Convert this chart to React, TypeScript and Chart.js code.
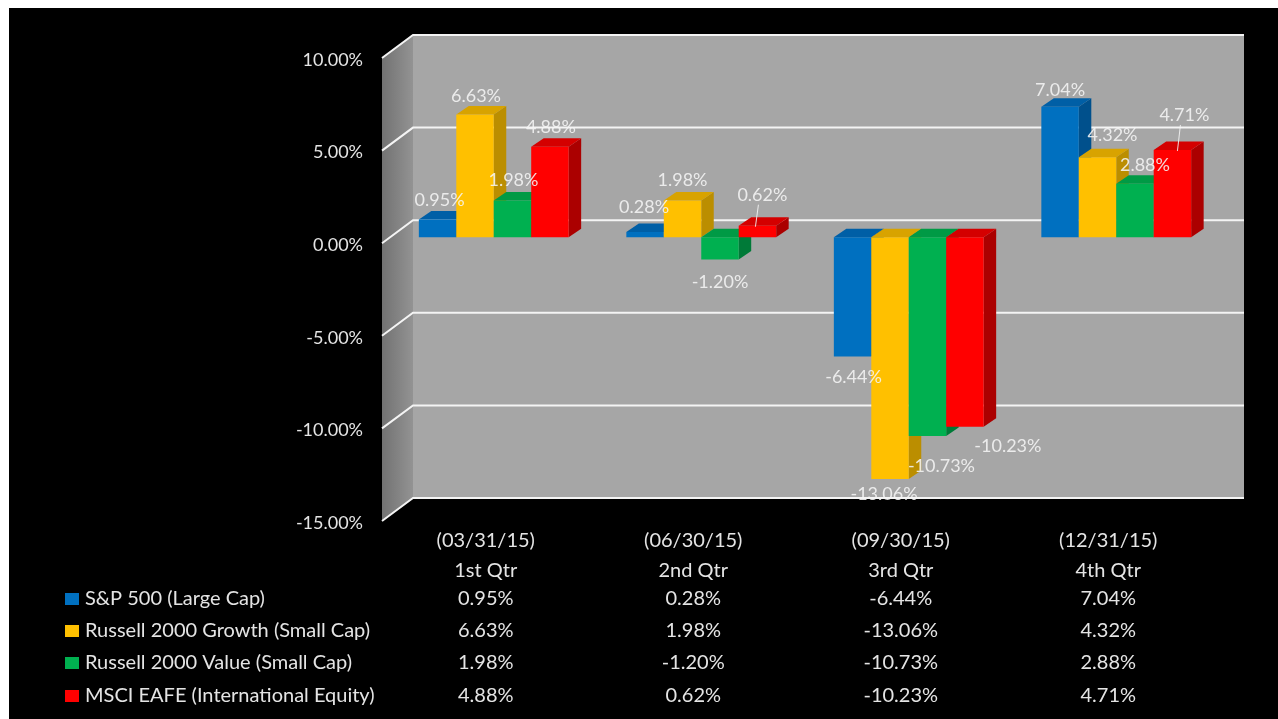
import React, { useEffect, useRef } from "react";
import { Chart, registerables } from "chart.js";

Chart.register(...registerables);

const dates = ["(03/31/15)", "(06/30/15)", "(09/30/15)", "(12/31/15)"];
const quarters = ["1st Qtr", "2nd Qtr", "3rd Qtr", "4th Qtr"];
const seriesNames = [
  "S&P 500 (Large Cap)",
  "Russell 2000 Growth (Small Cap)",
  "Russell 2000 Value (Small Cap)",
  "MSCI EAFE (International Equity)",
];
const sp500 = [0.95, 0.28, -6.44, 7.04];
const growth = [6.63, 1.98, -13.06, 4.32];
const value = [1.98, -1.2, -10.73, 2.88];
const eafe = [4.88, 0.62, -10.23, 4.71];
const seriesValues = [sp500, growth, value, eafe];

const FONT = "Lato, 'Open Sans', sans-serif";
const TEXT = "#e4e4e4";
const FRONT = ["#0070c0", "#ffc000", "#00b050", "#ff0000"];
const TOP = ["#005fa6", "#d8a300", "#009a45", "#d40000"];
const SIDE = ["#00508c", "#bb8e00", "#007a38", "#ab0000"];

// depth of the back wall relative to the front plane, and of the bars
const WALL = { x: 31, y: -23 };
const BAR_SHIFT = { x: 8, y: -6 };
const BAR_DEPTH = { x: 12.5, y: -8.5 };
// label nudges [dx, dy] from the bar's end, per series then per quarter
const LABEL_NUDGE = [
  [[2, -19], [-1, -25], [1, 21], [0, -17]],
  [[1, -18], [0, -20], [-6, 15], [15, -22]],
  [[1, -20], [0, 23], [14, 30], [10, -19]],
  [[1, -20], [5, -31], [43, 20], [12, -35]],
];
const LEADERS = [[1, 3], [3, 3]];
const ROW_Y = [591, 623, 655, 688];
const fmt = (v: number) => v.toFixed(2) + "%";

const scene = {
  id: "scene",
  beforeDraw(chart: any) {
    const { ctx, width, height, chartArea: a, scales } = chart;
    ctx.save();
    ctx.fillStyle = "#000";
    ctx.fillRect(0, 0, width, height);
    // back wall
    ctx.fillStyle = "#a6a6a6";
    ctx.fillRect(a.left + WALL.x, a.top + WALL.y, a.width + 1, a.height);
    // side wall
    const g = ctx.createLinearGradient(a.left, 0, a.left + WALL.x, 0);
    g.addColorStop(0, "#727272");
    g.addColorStop(1, "#939393");
    ctx.fillStyle = g;
    ctx.beginPath();
    ctx.moveTo(a.left, a.top);
    ctx.lineTo(a.left + WALL.x, a.top + WALL.y);
    ctx.lineTo(a.left + WALL.x, a.bottom + WALL.y);
    ctx.lineTo(a.left, a.bottom);
    ctx.closePath();
    ctx.fill();
    // gridlines
    ctx.strokeStyle = "#f4f4f4";
    ctx.lineWidth = 2;
    scales.y.ticks.forEach((t: any) => {
      const y = scales.y.getPixelForValue(t.value);
      ctx.beginPath();
      ctx.moveTo(a.left, y);
      ctx.lineTo(a.left + WALL.x, y + WALL.y);
      ctx.lineTo(a.right + WALL.x + 1, y + WALL.y);
      ctx.stroke();
    });
    ctx.restore();
  },
  beforeDatasetDraw() {
    return false;
  },
  afterDatasetsDraw(chart: any) {
    const { ctx, scales } = chart;
    ctx.save();
    ctx.translate(BAR_SHIFT.x, BAR_SHIFT.y);
    const zero = scales.y.getPixelForValue(0);
    chart.data.datasets.forEach((_: any, di: number) => {
      const meta = chart.getDatasetMeta(di);
      meta.data.forEach((bar: any) => {
        const l = bar.x - bar.width / 2;
        const r = bar.x + bar.width / 2;
        const top = Math.min(bar.y, zero);
        const bot = Math.max(bar.y, zero);
        const d = BAR_DEPTH;
        ctx.fillStyle = SIDE[di];
        ctx.beginPath();
        ctx.moveTo(r, top);
        ctx.lineTo(r + d.x, top + d.y);
        ctx.lineTo(r + d.x, bot + d.y);
        ctx.lineTo(r, bot);
        ctx.closePath();
        ctx.fill();
        ctx.fillStyle = TOP[di];
        ctx.beginPath();
        ctx.moveTo(l, top);
        ctx.lineTo(l + d.x, top + d.y);
        ctx.lineTo(r + d.x, top + d.y);
        ctx.lineTo(r, top);
        ctx.closePath();
        ctx.fill();
      });
      meta.controller.draw();
    });
    ctx.restore();

    // value labels
    ctx.save();
    ctx.font = `18px ${FONT}`;
    ctx.textAlign = "center";
    ctx.textBaseline = "middle";
    ctx.fillStyle = "rgba(245,245,245,0.88)";
    ctx.strokeStyle = "rgba(245,245,245,0.88)";
    chart.data.datasets.forEach((ds: any, di: number) => {
      chart.getDatasetMeta(di).data.forEach((bar: any, i: number) => {
        const [dx, dy] = LABEL_NUDGE[di][i];
        const x = bar.x + BAR_SHIFT.x;
        const y = bar.y + BAR_SHIFT.y;
        ctx.fillText(fmt(ds.data[i]), x + dx, y + dy);
        if (LEADERS.some(([q, s]) => q === i && s === di)) {
          ctx.lineWidth = 1;
          ctx.beginPath();
          ctx.moveTo(x + dx - 4, y + dy + 10);
          ctx.lineTo(x + dx - 7, y + 1);
          ctx.stroke();
        }
      });
    });
    ctx.restore();

    // data table with legend keys
    ctx.save();
    ctx.font = `20px ${FONT}`;
    ctx.textBaseline = "middle";
    ctx.fillStyle = TEXT;
    chart.data.datasets.forEach((ds: any, di: number) => {
      const y = ROW_Y[di];
      ctx.fillStyle = FRONT[di];
      ctx.fillRect(56, y - 6, 14, 12);
      ctx.fillStyle = TEXT;
      ctx.textAlign = "left";
      ctx.fillText(ds.label, 76, y);
      ctx.textAlign = "center";
      ds.data.forEach((v: number, i: number) => {
        ctx.fillText(fmt(v), scales.x.getPixelForValue(i), y);
      });
    });
    ctx.restore();
  },
};

export default function App() {
  const ref = useRef<HTMLCanvasElement>(null);
  useEffect(() => {
    const chart = new Chart(ref.current as HTMLCanvasElement, {
      type: "bar",
      data: {
        labels: dates.map((d, i) => [d, quarters[i]]),
        datasets: seriesNames.map((label, i) => ({
          label,
          data: seriesValues[i],
          backgroundColor: FRONT[i],
          borderWidth: 0,
          barPercentage: 1,
          categoryPercentage: 0.722,
        })),
      },
      options: {
        animation: false,
        responsive: false,
        devicePixelRatio: 1,
        layout: { padding: { left: 0, right: 66, top: 50, bottom: 0 } },
        plugins: { legend: { display: false }, tooltip: { enabled: false } },
        scales: {
          x: {
            grid: { display: false, drawTicks: false },
            border: { display: false },
            ticks: {
              color: TEXT,
              font: { family: FONT, size: 20, lineHeight: 1.5 },
              padding: 5,
              maxRotation: 0,
              autoSkip: false,
            },
            afterFit(s: any) {
              s.height = 198;
            },
          },
          y: {
            min: -15,
            max: 10,
            grid: { display: false, drawTicks: false },
            border: { display: false },
            ticks: {
              stepSize: 5,
              color: TEXT,
              font: { family: FONT, size: 18 },
              padding: 19,
              labelOffset: 2,
              callback: (v: any) => fmt(Number(v)),
            },
            afterFit(s: any) {
              s.width = 373;
            },
          },
        },
      },
      plugins: [scene],
    } as any);
    return () => chart.destroy();
  }, []);
  return (
    <div style={{ position: "absolute", left: 9, top: 8, width: 1269, height: 711 }}>
      <canvas ref={ref} width={1269} height={711} style={{ display: "block" }} />
    </div>
  );
}
